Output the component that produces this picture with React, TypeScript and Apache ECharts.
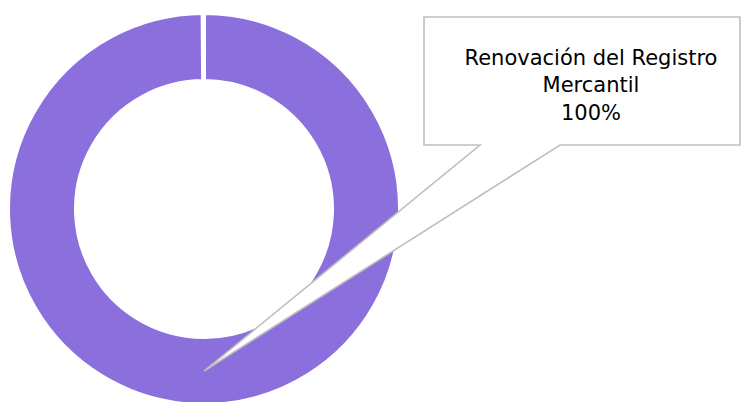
import React, { useEffect, useRef } from "react";
import * as echarts from "echarts";

const categories = ["Renovación del Registro Mercantil"];
const values = [100];

const PIE_CENTER = [204, 209];
const INNER_R = 130;
const OUTER_R = 194;

export default function App() {
  const ref = useRef<HTMLDivElement>(null);

  useEffect(() => {
    if (!ref.current) return;
    const chart = echarts.init(ref.current, null, { renderer: "svg" });
    const total = values.reduce((a, b) => a + b, 0);
    const pct = Math.round((values[0] / total) * 100);

    const midR = (INNER_R + OUTER_R) / 2;
    const tip = [PIE_CENTER[0], PIE_CENTER[1] + midR];

    chart.setOption({
      animation: false,
      series: [
        {
          type: "pie",
          center: PIE_CENTER,
          radius: [INNER_R - 2, OUTER_R + 2],
          startAngle: 90,
          endAngle: -269.6,
          clockwise: true,
          silent: true,
          label: { show: false },
          labelLine: { show: false },
          itemStyle: { color: "#8A6FDD", borderColor: "#ffffff", borderWidth: 4 },
          data: categories.map((c, i) => ({ name: c, value: values[i] })),
        },
      ],
      graphic: [
        {
          type: "polygon",
          z: 100,
          shape: {
            points: [
              [424, 17],
              [740, 17],
              [740, 145],
              [560, 145],
              tip,
              [480, 145],
              [424, 145],
            ],
          },
          style: { fill: "#ffffff", stroke: "#BFBFBF", lineWidth: 1.6 },
        },
        {
          type: "text",
          z: 101,
          x: 591,
          y: 85,
          style: {
            text: `Renovación del Registro\nMercantil\n${pct}%`,
            fontFamily: "DejaVu Sans",
            fontSize: 21,
            lineHeight: 27.5,
            fill: "#000000",
            align: "center",
            verticalAlign: "middle",
          },
        },
      ],
    });
    return () => chart.dispose();
  }, []);

  return (
    <div
      ref={ref}
      style={{ position: "fixed", left: 0, top: 0, width: 742, height: 402, background: "#ffffff" }}
    />
  );
}
